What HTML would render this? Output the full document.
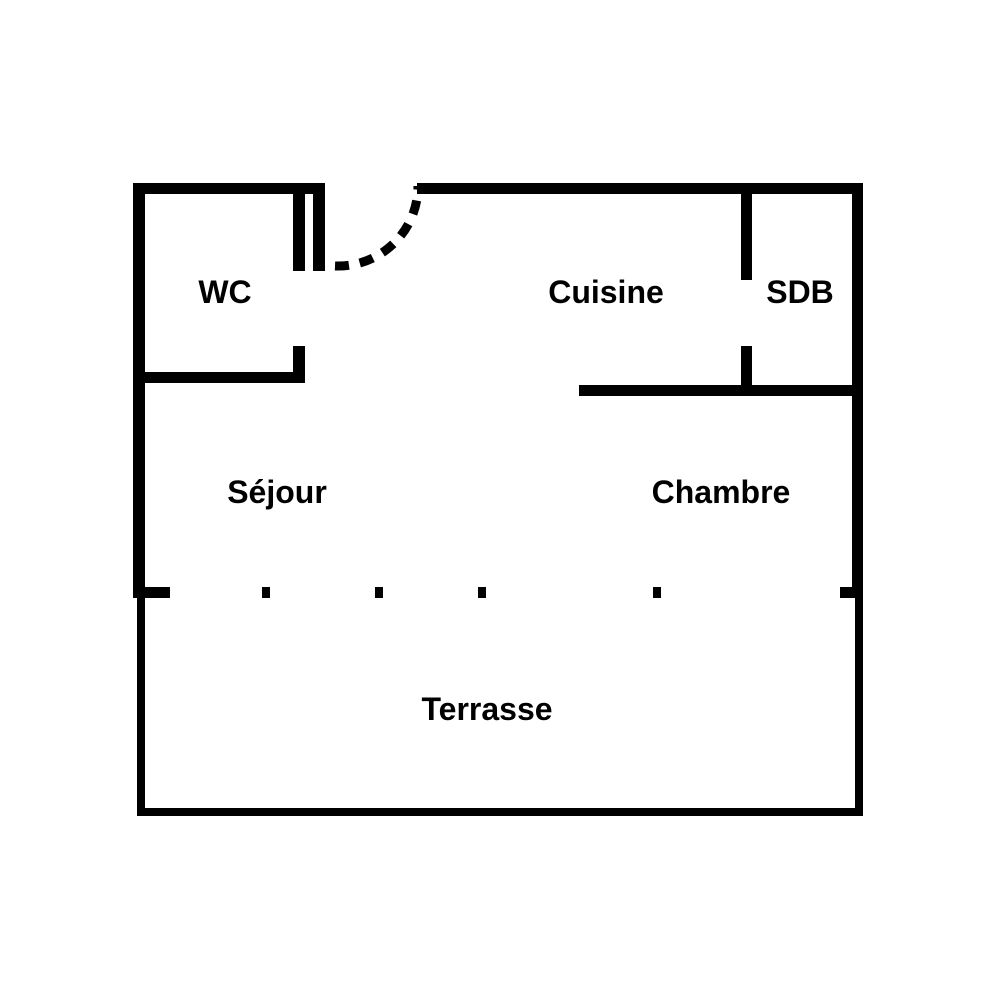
<!DOCTYPE html>
<html><head><meta charset="utf-8"><style>
html,body{margin:0;padding:0;background:#fff;width:1000px;height:1000px;overflow:hidden}
svg text{font-family:"Liberation Sans",sans-serif;font-weight:bold;font-size:32px;fill:#000;text-anchor:middle}
</style></head><body>
<svg width="1000" height="1000" viewBox="0 0 1000 1000" xmlns="http://www.w3.org/2000/svg">
<g fill="#000">
<!-- top walls -->
<rect x="133" y="183" width="192" height="11"/>
<rect x="417" y="183" width="446" height="11"/>
<!-- left wall -->
<rect x="133" y="183" width="12" height="415"/>
<!-- right wall -->
<rect x="852" y="183" width="11" height="415"/>
<!-- WC double walls -->
<rect x="293" y="183" width="12" height="88"/>
<rect x="313" y="183" width="12" height="88"/>
<rect x="293" y="346" width="12" height="37"/>
<rect x="133" y="372" width="172" height="11"/>
<!-- SDB wall -->
<rect x="741" y="183" width="11" height="97"/>
<rect x="741" y="346" width="11" height="45"/>
<rect x="579" y="385" width="284" height="11"/>
<!-- bottom of main area -->
<rect x="133" y="587" width="37" height="11"/>
<rect x="262" y="587" width="8" height="11"/>
<rect x="375" y="587" width="8" height="11"/>
<rect x="478" y="587" width="8" height="11"/>
<rect x="653" y="587" width="8" height="11"/>
<rect x="840" y="587" width="23" height="11"/>
<!-- terrasse -->
<rect x="137" y="595" width="8" height="221"/>
<rect x="855" y="595" width="8" height="221"/>
<rect x="137" y="808" width="726" height="8"/>
</g>
<path d="M335,266 A80,80 0 0 0 418,186" fill="none" stroke="#000" stroke-width="9" stroke-dasharray="14,11"/>
<text x="225" y="303">WC</text>
<text x="606" y="303">Cuisine</text>
<text x="800" y="303">SDB</text>
<text x="277" y="503">Séjour</text>
<text x="721" y="503">Chambre</text>
<text x="487" y="720">Terrasse</text>
</svg>
</body></html>
